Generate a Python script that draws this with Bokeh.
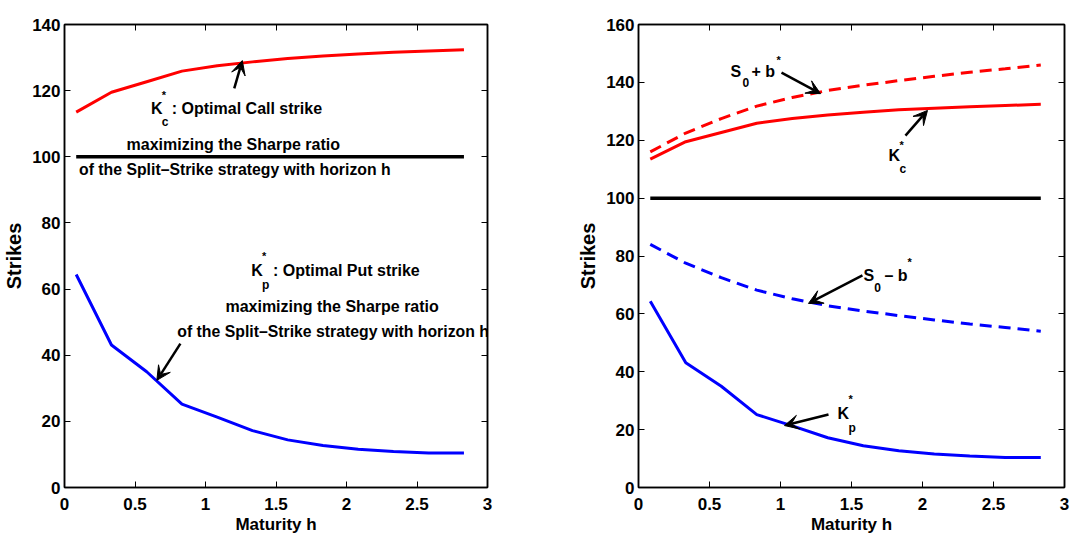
from bokeh.plotting import figure
from bokeh.layouts import row
from bokeh.models import Range1d, LinearAxis, FixedTicker, Arrow, VeeHead
from bokeh.core.properties import value
from bokeh.embed import file_html
from bokeh.resources import INLINE

# ---------------- data ----------------
maturity = [0.083, 0.333, 0.583, 0.833, 1.083, 1.333, 1.583, 1.833, 2.083, 2.333, 2.583, 2.833]
k_call = [113.5, 119.5, 122.7, 125.9, 127.5, 128.7, 129.7, 130.5, 131.1, 131.6, 132.0, 132.4]
k_put = [64.4, 43.1, 35.0, 25.2, 21.3, 17.2, 14.4, 12.7, 11.6, 10.9, 10.4, 10.4]
s0_plus_b = [116.0, 122.5, 127.5, 131.8, 134.8, 137.2, 139.0, 140.6, 142.1, 143.5, 144.7, 146.0]
s0_minus_b = [84.0, 77.5, 72.5, 68.2, 65.2, 62.8, 61.0, 59.4, 57.9, 56.5, 55.3, 54.0]
s0 = [100.0] * 12

x_ticks = [0, 0.5, 1, 1.5, 2, 2.5, 3]
x_tick_labels = ["0", "0.5", "1", "1.5", "2", "2.5", "3"]
y_ticks_left = [0, 20, 40, 60, 80, 100, 120, 140]
y_ticks_right = [0, 20, 40, 60, 80, 100, 120, 140, 160]

FONT = "Liberation Sans"


def make_fig(width, bl, br, ymax, yticks):
    p = figure(width=width, height=538, x_range=Range1d(0, 3), y_range=Range1d(0, ymax),
               output_backend="svg", toolbar_location=None,
               min_border_left=bl, min_border_right=br, min_border_top=24, min_border_bottom=51,
               background_fill_color="white", border_fill_color="white")
    p.grid.visible = False
    p.outline_line_color = "black"
    p.outline_line_width = 1.5
    p.xaxis.ticker = FixedTicker(ticks=x_ticks)
    p.xaxis.major_label_overrides = {t: l for t, l in zip(x_ticks, x_tick_labels)}
    p.yaxis.ticker = FixedTicker(ticks=yticks)
    p.yaxis.major_label_overrides = {t: str(t) for t in yticks}
    for ax in (p.xaxis[0], p.yaxis[0]):
        ax.major_tick_in = 6
        ax.major_tick_out = 0
        ax.minor_tick_line_color = None
        ax.axis_line_width = 1.5
        ax.major_tick_line_width = 1
        ax.major_label_text_font = FONT
        ax.major_label_text_font_style = "bold"
        ax.major_label_text_font_size = "17px"
        ax.major_label_text_color = "black"
        ax.axis_label_text_font = FONT
        ax.axis_label_text_font_style = "bold"
        ax.axis_label_text_color = "black"
    p.xaxis.major_label_standoff = 10
    p.yaxis.major_label_standoff = 4
    p.xaxis.axis_label = "Maturity h"
    p.xaxis.axis_label_text_font_size = "17px"
    p.xaxis.axis_label_standoff = 2
    p.yaxis.axis_label = "Strikes"
    p.yaxis.axis_label_text_font_size = "20px"
    p.yaxis.axis_label_standoff = 4
    # mirrored ticks on top and right (box)
    top = LinearAxis(ticker=FixedTicker(ticks=x_ticks), major_tick_in=6, major_tick_out=0,
                     minor_tick_line_color=None, axis_line_width=1.5,
                     major_label_overrides={t: "" for t in x_ticks})
    right = LinearAxis(ticker=FixedTicker(ticks=yticks), major_tick_in=6, major_tick_out=0,
                       minor_tick_line_color=None, axis_line_width=1.5,
                       major_label_overrides={t: "" for t in yticks})
    p.add_layout(top, "above")
    p.add_layout(right, "right")
    return p


def txt(p, x, y, s, size=16, align="left"):
    p.text(x=[x], y=[y], text=[s], text_font=value(FONT), text_font_style="bold",
           text_font_size=f"{size}px", text_align=align, text_baseline="middle",
           text_color="black")


def arrow(p, x0, y0, x1, y1):
    p.add_layout(Arrow(end=VeeHead(size=14, fill_color="black", line_color="black", line_width=1),
                       x_start=x0, y_start=y0, x_end=x1, y_end=y1,
                       line_color="black", line_width=2.5))


# ---------------- left panel ----------------
p1 = make_fig(545, 61, 58, 140, y_ticks_left)
p1.line(maturity, k_call, line_color="red", line_width=3)
p1.line(maturity, s0, line_color="black", line_width=3.5)
p1.line(maturity, k_put, line_color="blue", line_width=3)

txt(p1, 0.613, 114.6, "K")
txt(p1, 0.690, 118.8, "*", size=11)
txt(p1, 0.690, 110.6, "c", size=12)
txt(p1, 0.761, 114.6, ": Optimal Call strike")
txt(p1, 1.197, 103.7, "maximizing the Sharpe ratio", align="center")
txt(p1, 1.208, 96.2, "of the Split\u2013Strike strategy with horizon h", size=15.8, align="center")
arrow(p1, 1.204, 120.7, 1.261, 129.1)

txt(p1, 1.324, 65.6, "K")
txt(p1, 1.401, 69.9, "*", size=11)
txt(p1, 1.401, 61.3, "p", size=12)
txt(p1, 1.479, 65.6, ": Optimal Put strike")
txt(p1, 1.898, 54.7, "maximizing the Sharpe ratio", align="center")
txt(p1, 1.905, 47.2, "of the Split\u2013Strike strategy with horizon h", size=15.8, align="center")
arrow(p1, 0.822, 43.5, 0.655, 32.4)

# ---------------- right panel ----------------
p2 = make_fig(540, 93, 21, 160, y_ticks_right)
p2.line(maturity, s0_plus_b, line_color="red", line_width=3, line_dash="12 7")
p2.line(maturity, k_call, line_color="red", line_width=3)
p2.line(maturity, s0, line_color="black", line_width=3.5)
p2.line(maturity, s0_minus_b, line_color="blue", line_width=3, line_dash="12 7")
p2.line(maturity, k_put, line_color="blue", line_width=3)

txt(p2, 0.648, 143.7, "S")
txt(p2, 0.732, 139.9, "0", size=12)
txt(p2, 0.796, 143.7, "+ b")
txt(p2, 0.972, 147.6, "*", size=11)
arrow(p2, 1.007, 143.4, 1.282, 136.1)

txt(p2, 1.761, 114.7, "K")
txt(p2, 1.838, 118.2, "*", size=11)
txt(p2, 1.838, 110.2, "c", size=12)
arrow(p2, 1.880, 121.6, 2.035, 130.3)

txt(p2, 1.585, 73.3, "S")
txt(p2, 1.660, 69.1, "0", size=12)
txt(p2, 1.732, 73.3, "\u2013 b")
txt(p2, 1.894, 77.8, "*", size=11)
arrow(p2, 1.577, 73.3, 1.197, 63.6)

txt(p2, 1.401, 25.6, "K")
txt(p2, 1.479, 30.5, "*", size=11)
txt(p2, 1.479, 20.7, "p", size=12)
arrow(p2, 1.338, 25.2, 1.028, 21.4)

layout = row(p1, p2)
open("out.html", "w").write(file_html(layout, INLINE))
